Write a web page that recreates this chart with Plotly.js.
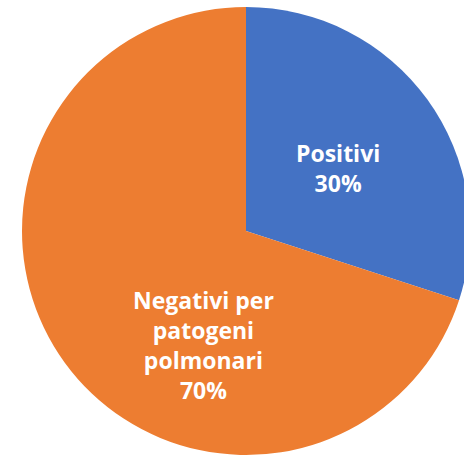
<!DOCTYPE html>
<html>
<head>
<meta charset="utf-8">
<script src="https://cdn.plot.ly/plotly-3.0.1.min.js"></script>
<style>
  html, body { margin: 0; padding: 0; overflow: hidden; background: #fff; }
  #pie-chart { width: 492px; height: 458px; }
</style>
</head>
<body>
<div id="pie-chart"></div>
<script>
// categories and their share of samples
var categories = ["Positivi", "Negativi per<br>patogeni<br>polmonari"];
var shares = [30, 70];
var sliceColors = ["#4472C4", "#ED7D31"];

var trace = {
  type: "pie",
  labels: categories,
  values: shares,
  sort: false,
  direction: "clockwise",
  rotation: 0,
  marker: { colors: sliceColors },
  textinfo: "none",
  hoverinfo: "none",
  domain: { x: [22 / 492, 470 / 492], y: [3 / 458, 451 / 458] }
};

// data labels sit where the original chart had them (not at the slice middle)
var labelSpots = [[0.687, 0.634], [0.4136, 0.2467]];
var labels = categories.map(function (c, i) {
  return {
    xref: "paper", yref: "paper",
    x: labelSpots[i][0], y: labelSpots[i][1],
    xanchor: "center", yanchor: "middle",
    text: c + "<br>" + shares[i] + "%",
    showarrow: false,
    font: { family: "'Open Sans', sans-serif", size: 23, color: "#ffffff", weight: "bold" }
  };
});

var layout = {
  width: 492,
  height: 458,
  margin: { l: 0, r: 0, t: 0, b: 0 },
  showlegend: false,
  annotations: labels,
  paper_bgcolor: "#ffffff"
};

Plotly.newPlot("pie-chart", [trace], layout, { staticPlot: true });
</script>
</body>
</html>
